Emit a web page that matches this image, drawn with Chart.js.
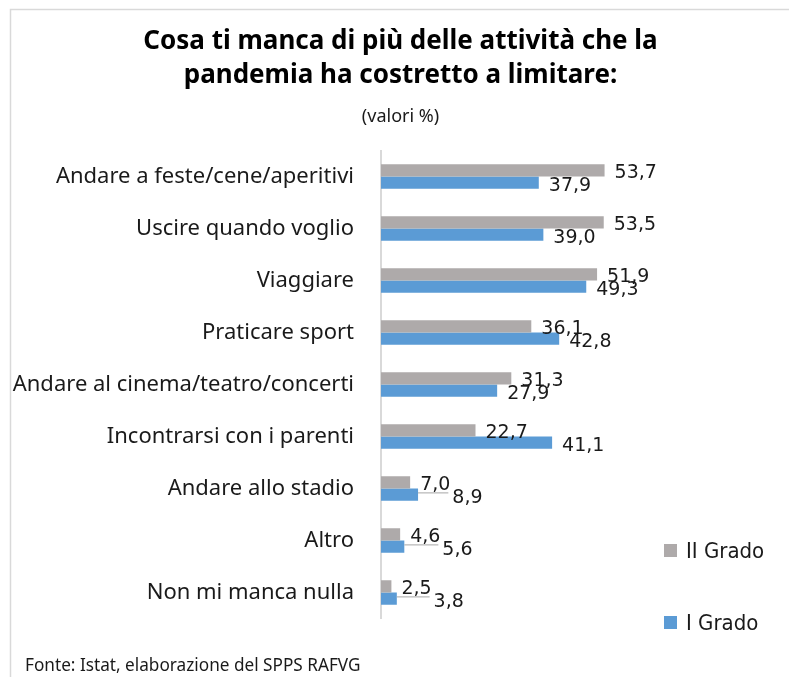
<!DOCTYPE html>
<html>
<head>
<meta charset="utf-8">
<script src="https://cdn.jsdelivr.net/npm/chart.js@4.4.1/dist/chart.umd.min.js"></script>
<style>
  html, body { margin: 0; padding: 0; background: #fff; overflow: hidden; }
  #wrap { position: relative; width: 789px; height: 677px; }
</style>
</head>
<body>
<div id="wrap"><canvas id="chart" width="789" height="677"></canvas></div>
<script>
const categories = [
    'Andare a feste/cene/aperitivi',
    'Uscire quando voglio',
    'Viaggiare',
    'Praticare sport',
    'Andare al cinema/teatro/concerti',
    'Incontrarsi con i parenti',
    'Andare allo stadio',
    'Altro',
    'Non mi manca nulla'
];
const secondoGrado = [53.7, 53.5, 51.9, 36.1, 31.3, 22.7, 7.0, 4.6, 2.5];
const primoGrado = [37.9, 39.0, 49.3, 42.8, 27.9, 41.1, 8.9, 5.6, 3.8];
const seriesNames = ['II Grado', 'I Grado'];

const sans = '"Noto Sans", "Open Sans", sans-serif';
const condensed = '"DejaVu Sans Condensed", sans-serif';
const GRAY = '#aeaaaa';
const BLUE = '#5b9bd5';

function fmt(v) {
    return v.toFixed(1).replace('.', ',');
}

// etichette valori, legenda, nota a piè di pagina, cornice
const extras = {
    id: 'extras',
    beforeDraw(chart) {
        const ctx = chart.ctx;
        ctx.save();
        ctx.strokeStyle = '#d9d9d9';
        ctx.lineWidth = 1.5;
        ctx.beginPath();
        ctx.moveTo(10.5, 700);
        ctx.lineTo(10.5, 9.5);
        ctx.lineTo(800, 9.5);
        ctx.stroke();
        ctx.restore();
    },
    afterDatasetsDraw(chart) {
        const ctx = chart.ctx;
        const gMeta = chart.getDatasetMeta(0);
        const bMeta = chart.getDatasetMeta(1);
        const base = chart.scales.x.getPixelForValue(0);
        ctx.save();
        ctx.font = '19px "DejaVu Sans", sans-serif';
        ctx.fillStyle = '#1a1a1a';
        ctx.textBaseline = 'middle';
        ctx.textAlign = 'left';
        categories.forEach((c, i) => {
            const g = gMeta.data[i];
            const b = bMeta.data[i];
            const gText = fmt(secondoGrado[i]);
            const bText = fmt(primoGrado[i]);
            const gx = g.x + 10;
            const gEnd = gx + ctx.measureText(gText).width;
            let bx = b.x + 10;
            const small = (g.x - base) < 50 && (b.x - base) < 50;
            if (small) {
                bx = Math.max(bx, gEnd + 2);
                ctx.strokeStyle = '#a6a6a6';
                ctx.lineWidth = 1;
                ctx.beginPath();
                ctx.moveTo(b.x, g.y + 10.5);
                ctx.lineTo(gEnd - 2, g.y + 10.5);
                ctx.stroke();
            }
            ctx.fillText(gText, gx, g.y + 3);
            ctx.fillText(bText, bx, b.y + 3);
        });
        ctx.restore();
    },
    afterDraw(chart) {
        const ctx = chart.ctx;
        ctx.save();
        // legenda
        const items = [
            { label: seriesNames[0], color: chart.data.datasets[0].backgroundColor, y: 551 },
            { label: seriesNames[1], color: chart.data.datasets[1].backgroundColor, y: 623 }
        ];
        ctx.font = '22px ' + condensed;
        ctx.textBaseline = 'middle';
        items.forEach(it => {
            ctx.fillStyle = it.color;
            ctx.fillRect(664, it.y - 7, 13, 13);
            ctx.fillStyle = '#1a1a1a';
            ctx.fillText(it.label, 686, it.y + 1);
        });
        // fonte
        ctx.font = '17.2px ' + sans;
        ctx.textBaseline = 'alphabetic';
        ctx.fillText('Fonte: Istat, elaborazione del SPPS RAFVG', 25, 671);
        ctx.restore();
    }
};

new Chart(document.getElementById('chart'), {
    type: 'bar',
    data: {
        labels: categories,
        datasets: [
            { label: seriesNames[0], data: secondoGrado, backgroundColor: GRAY },
            { label: seriesNames[1], data: primoGrado, backgroundColor: BLUE }
        ]
    },
    options: {
        indexAxis: 'y',
        responsive: false,
        animation: false,
        events: [],
        categoryPercentage: 0.47,
        barPercentage: 1,
        layout: { padding: { left: 12, right: 0, top: 0, bottom: 58.5 } },
        scales: {
            x: { display: false, min: 0, max: 98 },
            y: {
                afterFit(scale) { scale.width = 369; },
                grid: { display: false, drawTicks: false },
                border: { display: true, color: '#d9d9d9', width: 2 },
                ticks: {
                    padding: 27,
                    color: '#1a1a1a',
                    font: { family: sans, size: 22 }
                }
            }
        },
        plugins: {
            legend: { display: false },
            tooltip: { enabled: false },
            title: {
                display: true,
                text: ['Cosa ti manca di più delle attività che la', 'pandemia ha costretto a limitare:'],
                color: '#000',
                font: { family: sans, size: 26, weight: 'bold', lineHeight: 1.31 },
                padding: { top: 25, bottom: 0 }
            },
            subtitle: {
                display: true,
                text: '(valori %)',
                color: '#1a1a1a',
                font: { family: sans, size: 18, lineHeight: 1.2 },
                padding: { top: 13, bottom: 22.8 }
            }
        }
    },
    plugins: [extras]
});
</script>
</body>
</html>
